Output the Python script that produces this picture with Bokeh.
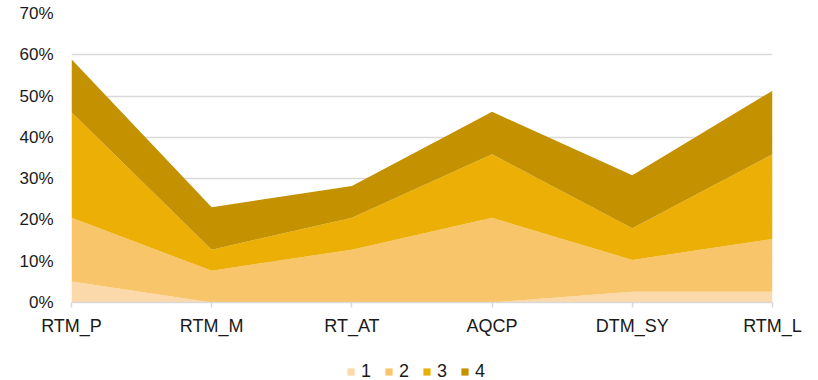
from bokeh.plotting import figure
from bokeh.layouts import column
from bokeh.models import (ColumnDataSource, Range1d, FixedTicker, PrintfTickFormatter,
                          Legend)
from bokeh.embed import file_html
from bokeh.resources import INLINE

# Categories along the x axis
categories = ["RTM_P", "RTM_M", "RT_AT", "AQCP", "DTM_SY", "RTM_L"]

# Share (%) of each level per category; levels are stacked
level_1 = [5.1, 0.0, 0.0, 0.0, 2.6, 2.6]
level_2 = [15.4, 7.7, 12.8, 20.5, 7.7, 12.8]
level_3 = [25.6, 5.1, 7.7, 15.4, 7.7, 20.5]
level_4 = [12.8, 10.3, 7.7, 10.3, 12.8, 15.4]

series_names = ["1", "2", "3", "4"]
y_ticks = [0, 10, 20, 30, 40, 50, 60, 70]

colors = ["#FCD9AA", "#F9C56A", "#EBAF05", "#C49100"]
FONT = "Liberation Sans"
TEXT_COLOR = "#1a1a1a"

positions = list(range(len(categories)))
source = ColumnDataSource(data=dict(
    x=positions, s1=level_1, s2=level_2, s3=level_3, s4=level_4,
))

p = figure(width=818, height=340, output_backend="svg", toolbar_location=None,
           x_range=Range1d(positions[0], positions[-1]),
           y_range=Range1d(y_ticks[0], y_ticks[-1]),
           min_border_left=71, min_border_right=46,
           min_border_top=13, min_border_bottom=38)
p.outline_line_color = None
p.background_fill_color = "white"
p.border_fill_color = "white"

p.varea_stack(stackers=["s1", "s2", "s3", "s4"], x="x", color=colors, source=source)

# Axes
p.xaxis.ticker = FixedTicker(ticks=positions)
p.xaxis.major_label_overrides = {i: c for i, c in zip(positions, categories)}
p.xaxis.axis_line_color = "#D9D9D9"
p.xaxis.axis_line_width = 1.5
p.xaxis.major_tick_line_color = "#D9D9D9"
p.xaxis.major_tick_line_width = 1.5
p.xaxis.major_tick_in = 0
p.xaxis.major_tick_out = 5
p.xaxis.minor_tick_line_color = None
p.xaxis.major_label_standoff = 8
p.xaxis.major_label_text_font = FONT
p.xaxis.major_label_text_font_size = "18px"
p.xaxis.major_label_text_color = TEXT_COLOR

p.yaxis.ticker = FixedTicker(ticks=y_ticks)
p.yaxis.formatter = PrintfTickFormatter(format="%d%%")
p.yaxis.axis_line_color = None
p.yaxis.major_tick_line_color = None
p.yaxis.minor_tick_line_color = None
p.yaxis.major_tick_out = 0
p.yaxis.major_tick_in = 0
p.yaxis.major_label_standoff = 18
p.yaxis.major_label_text_font = FONT
p.yaxis.major_label_text_font_size = "17px"
p.yaxis.major_label_text_color = TEXT_COLOR

p.xgrid.grid_line_color = None
p.ygrid.grid_line_color = "#D9D9D9"
p.ygrid.grid_line_width = 1.5
p.ygrid.level = "underlay"

# Legend strip below the chart (no axes, frame spans the whole strip)
lg = figure(width=818, height=40, output_backend="svg", toolbar_location=None,
            x_range=Range1d(0, 1), y_range=Range1d(0, 1), min_border=0,
            x_axis_location=None, y_axis_location=None)
lg.grid.grid_line_color = None
lg.outline_line_color = None
lg.background_fill_color = "white"
lg.border_fill_color = "white"

# Swatch renderers: their areas lie outside the strip's ranges, only the legend shows them
swatches = []
for c in colors:
    off = ColumnDataSource(data=dict(x=[5, 6], y1=[5, 5], y2=[6, 6]))
    swatches.append(lg.varea(x="x", y1="y1", y2="y2", color=c, source=off))

legend = Legend(items=[(name, [r]) for name, r in zip(series_names, swatches)],
                orientation="horizontal", location=(275, -2))
legend.label_text_font = FONT
legend.label_text_font_size = "18px"
legend.label_text_color = TEXT_COLOR
legend.label_width = 10
legend.glyph_width = 9
legend.glyph_height = 9
legend.label_standoff = 6
legend.spacing = 13
legend.padding = 0
legend.margin = 0
legend.border_line_color = None
legend.background_fill_alpha = 0
lg.add_layout(legend, "center")

layout = column(p, lg, spacing=0)
open("out.html", "w").write(file_html(layout, INLINE))
